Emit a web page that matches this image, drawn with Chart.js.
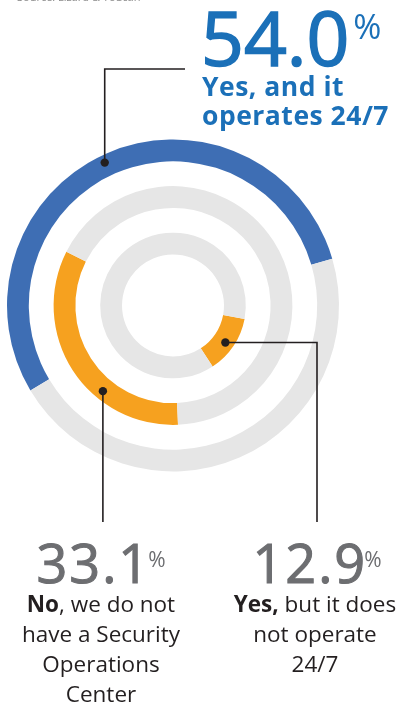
<!DOCTYPE html>
<html>
<head>
<meta charset="utf-8">
<script src="https://cdn.jsdelivr.net/npm/chart.js@4.4.1/dist/chart.umd.min.js"></script>
<style>
  html, body { margin:0; padding:0; background:#fff; }
  #wrap { position:relative; width:401px; height:707px; overflow:hidden; font-family:"Open Sans", sans-serif; }
  #wrap canvas { position:absolute; left:0; top:0; }
  .abs { position:absolute; white-space:nowrap; }
  .src { left:17px; top:-10px; font-size:11px; color:#8a8a8a; line-height:14px; }
  .big1 { left:201px; top:0px; font-size:75px; line-height:75px; color:#1b70b8; -webkit-text-stroke:1.6px #1b70b8; }
  .big1 .pct { font-size:34px; line-height:0; vertical-align:27px; margin-left:4px; -webkit-text-stroke:0; }
  .lab1 { left:202px; top:72px; font-size:26.5px; line-height:28.5px; letter-spacing:0.5px; font-weight:700; color:#1b70b8; }
  .num { font-size:54px; line-height:54px; letter-spacing:2px; color:#6d6e71; text-align:center; width:200px; top:535px; -webkit-text-stroke:1.1px #6d6e71; }
  .num .pct { font-size:21px; line-height:0; vertical-align:16px; margin-left:-3px; letter-spacing:0; -webkit-text-stroke:0; }
  .desc { font-size:22.5px; line-height:30px; color:#231f20; text-align:center; width:200px; top:589px; }
  .desc b { font-weight:700; }
</style>
</head>
<body>
<div id="wrap">
  <canvas id="c" width="401" height="707"></canvas>
  <div class="abs src">Source: Lizard &amp; Toucan</div>
  <div class="abs big1" id="v0"></div>
  <div class="abs lab1">Yes, and it<br>operates 24/7</div>
  <div class="abs num" id="v1" style="left:1px"></div>
  <div class="abs desc" style="left:1px"><b>No</b>, we do not<br>have a Security<br>Operations<br>Center</div>
  <div class="abs num" id="v2" style="left:217px"></div>
  <div class="abs desc" style="left:215px"><b>Yes,</b> but it does<br>not operate<br>24/7</div>
</div>
<script>
// ---- data ----
const categories = [
  'Yes, and it operates 24/7',
  'No, we do not have a Security Operations Center',
  'Yes, but it does not operate 24/7'
];
const shares = [54.0, 33.1, 12.9];
const ringColors = ['#3e6eb4', '#f6a11f', '#f6a11f'];
const trackColor = '#e6e6e6';

// numbers as text
['v0','v1','v2'].forEach((id, i) => {
  document.getElementById(id).innerHTML = shares[i].toFixed(1) + '<span class="pct">%</span>';
});

function ring(i, rotation) {
  return {
    label: categories[i],
    data: [shares[i], 100 - shares[i]],
    backgroundColor: [ringColors[i], trackColor],
    borderWidth: 0,
    rotation: rotation,
    weight: 22
  };
}
function spacer() {
  return { data: [1], backgroundColor: ['rgba(0,0,0,0)'], borderWidth: 0, weight: 25 };
}

const leaderPlugin = {
  id: 'leaders',
  afterDatasetsDraw(chart) {
    const ctx = chart.ctx;
    const pt = (ds, f, rf) => {
      const a = chart.getDatasetMeta(ds).data[0];
      const ang = a.startAngle + f * (a.endAngle - a.startAngle);
      const r = a.innerRadius + rf * (a.outerRadius - a.innerRadius);
      return { x: a.x + r * Math.cos(ang), y: a.y + r * Math.sin(ang) };
    };
    const p1 = pt(0, 0.49, 0.65);
    const p2 = pt(2, 0.35, 0.6);
    const p3 = pt(4, 0.53, 0.6);
    ctx.save();
    ctx.strokeStyle = '#231f20';
    ctx.fillStyle = '#231f20';
    ctx.lineWidth = 1.6;
    ctx.beginPath();
    ctx.moveTo(p1.x, p1.y); ctx.lineTo(p1.x, 69); ctx.lineTo(185, 69);
    ctx.moveTo(p2.x, p2.y); ctx.lineTo(p2.x, 522);
    ctx.moveTo(p3.x, p3.y); ctx.lineTo(317, p3.y); ctx.lineTo(317, 522);
    ctx.stroke();
    [p1, p2, p3].forEach(p => { ctx.beginPath(); ctx.arc(p.x, p.y, 4.2, 0, Math.PI * 2); ctx.fill(); });
    ctx.restore();
  }
};

new Chart(document.getElementById('c'), {
  type: 'doughnut',
  data: {
    labels: ['share', 'rest'],
    datasets: [ring(0, 239.2), spacer(), ring(1, 177.6), spacer(), ring(2, 100.6)]
  },
  options: {
    responsive: false,
    animation: false,
    events: [],
    cutout: 51,
    layout: { padding: { left: 7, top: 139.5, right: 62, bottom: 235.5 } },
    plugins: { legend: { display: false }, tooltip: { enabled: false } }
  },
  plugins: [leaderPlugin]
});
</script>
</body>
</html>
